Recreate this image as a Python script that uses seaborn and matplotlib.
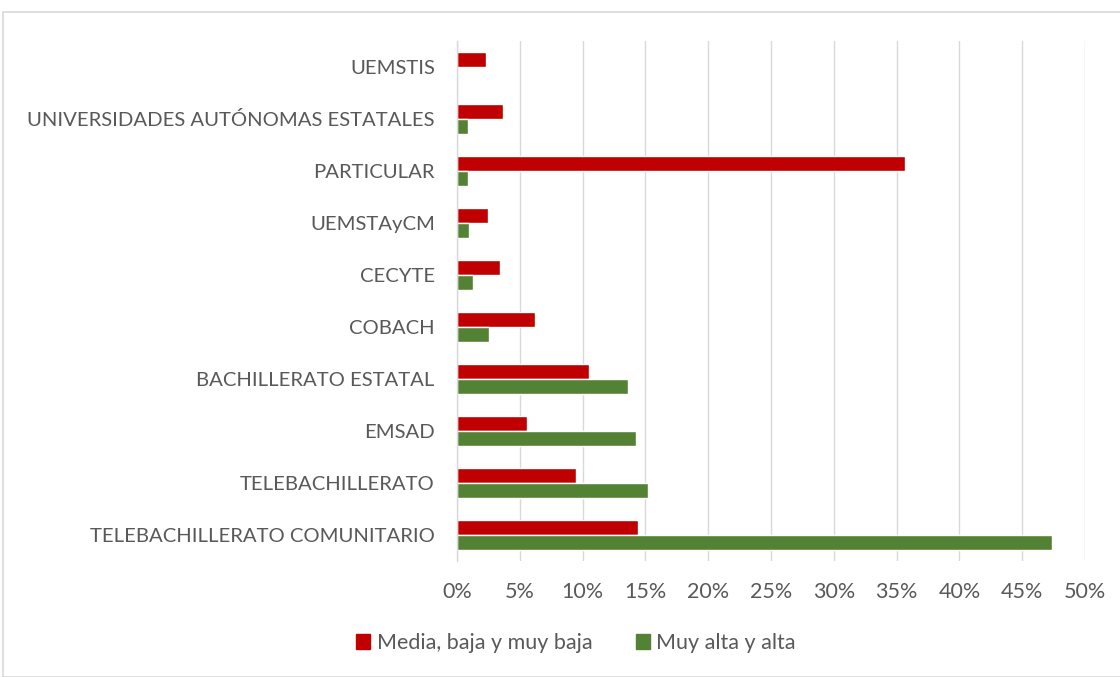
import matplotlib
matplotlib.use("Agg")
import matplotlib.pyplot as plt
import matplotlib.patches as mpatches
from matplotlib.ticker import PercentFormatter
import seaborn as sns
import pandas as pd

categories = ["UEMSTIS", "UNIVERSIDADES AUTÓNOMAS ESTATALES", "PARTICULAR", "UEMSTAyCM",
              "CECYTE", "COBACH", "BACHILLERATO ESTATAL", "EMSAD", "TELEBACHILLERATO",
              "TELEBACHILLERATO COMUNITARIO"]
media_baja = [2.3, 3.7, 35.65, 2.47, 3.4, 6.22, 10.47, 5.58, 9.46, 14.43]
muy_alta = [0.0, 0.85, 0.85, 0.96, 1.25, 2.55, 13.58, 14.22, 15.18, 47.34]
series_names = ["Media, baja y muy baja", "Muy alta y alta"]
x_ticks = [0, 5, 10, 15, 20, 25, 30, 35, 40, 45, 50]

df = pd.DataFrame({
    "cat": categories * 2,
    "val": media_baja + muy_alta,
    "serie": [series_names[0]] * len(categories) + [series_names[1]] * len(categories),
})

sns.set_theme(style="white")
plt.rcParams['font.family'] = ['Lato', 'DejaVu Sans']
txt = "#595959"

fig = plt.figure(figsize=(11.2, 6.77), dpi=100)
ax = fig.add_axes([457 / 1120, 1 - 561 / 677, (1085 - 457) / 1120, (561 - 41) / 677])

sns.barplot(data=df, x="val", y="cat", hue="serie", orient="h", ax=ax,
            palette=["#C00000", "#548235"], width=0.58, gap=0, saturation=1,
            order=categories, hue_order=series_names, legend=False)

ax.set_xlim(0, 50)
ax.set_xticks(x_ticks)
ax.xaxis.set_major_formatter(PercentFormatter(decimals=0))
ax.grid(axis="x", color="#D9D9D9", linewidth=1)
ax.set_axisbelow(True)
for s in ["top", "right", "bottom"]:
    ax.spines[s].set_visible(False)
ax.spines["left"].set_color("#D9D9D9")
ax.spines["left"].set_linewidth(1)
ax.set_xlabel("")
ax.set_ylabel("")
ax.tick_params(axis="x", colors=txt, labelsize=15.5, length=0, pad=15)
ax.tick_params(axis="y", colors=txt, labelsize=14.6, length=0, pad=16)

handles = [mpatches.Patch(color="#C00000", label=series_names[0]),
           mpatches.Patch(color="#548235", label=series_names[1])]
fig.legend(handles=handles, loc="center", bbox_to_anchor=(576 / 1120, 1 - 643 / 677),
           ncol=2, frameon=False, fontsize=15.5, labelcolor=txt, handlelength=0.65,
           handleheight=0.65, handletextpad=0.3, columnspacing=2.0)

border = mpatches.Rectangle((3 / 1120, 0), 1.2, 1 - 12 / 677, transform=fig.transFigure,
                            fill=False, edgecolor="#D9D9D9", linewidth=1.2)
fig.patches.append(border)

fig.savefig("out.png", dpi=100)
